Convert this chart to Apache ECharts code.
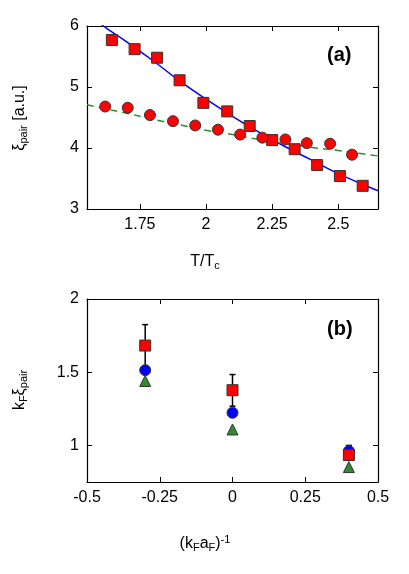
<!DOCTYPE html><html><head><meta charset="utf-8">
<script src="https://cdn.jsdelivr.net/npm/echarts@6/dist/echarts.min.js"></script>
<style>html,body{margin:0;background:#fff}#c{width:409px;height:574px}</style></head><body><div id="c"></div>
<script>
const sqT=[1.644,1.73,1.815,1.90,1.99,2.08,2.165,2.25,2.335,2.42,2.506,2.592];
const sqXi=[5.77,5.62,5.48,5.11,4.74,4.60,4.36,4.13,3.98,3.72,3.54,3.38];
const ciT=[1.619,1.704,1.788,1.875,1.959,2.045,2.129,2.213,2.30,2.381,2.469,2.552];
const ciXi=[4.68,4.66,4.54,4.44,4.37,4.30,4.22,4.17,4.14,4.08,4.07,3.89];
const fitT=[1.55,1.6,1.7,1.8,1.9,2.0,2.1,2.2,2.3,2.4,2.5,2.6,2.65];
const blueFit=[6.25,6.04,5.74,5.43,5.1,4.8,4.52,4.26,4.02,3.8,3.58,3.39,3.3];
const greenFit=[4.71,4.66,4.57,4.47,4.38,4.29,4.22,4.14,4.07,4.01,3.96,3.90,3.87];
const kx=[-0.3,0.0,0.4];
const kSq=[1.682,1.377,0.934];
const kSqErrLo=[1.54,1.268,0.90];
const kSqErrHi=[1.825,1.484,1.0];
const kCi=[1.514,1.223,0.961];
const kTr=[1.44,1.109,0.852];
const z=(a,b)=>a.map((v,i)=>[v,b[i]]);
const F='Liberation Sans, Arial, sans-serif';
const ax={axisLine:{show:true,onZero:false,lineStyle:{color:'#000',width:1.2}},axisTick:{show:true,inside:true,length:5,lineStyle:{color:'#000'}},splitLine:{show:false},axisLabel:{color:'#000',fontSize:16,fontFamily:F}};
const mirror=(o)=>Object.assign({},ax,o,{axisLabel:{show:false}});
const ch=echarts.init(document.getElementById('c'));
const bd={borderColor:'#333',borderWidth:1,opacity:1};
ch.setOption({animation:false,
grid:[{left:87,right:31,top:26,height:183},{left:87,right:31,top:299,height:183}],
xAxis:[
Object.assign({},ax,{gridIndex:0,type:'value',min:1.55,max:2.65,interval:0.25,axisLabel:Object.assign({},ax.axisLabel,{customValues:[1.75,2,2.25,2.5],formatter:v=>String(+v.toFixed(2))}),axisTick:Object.assign({},ax.axisTick,{customValues:[1.75,2,2.25,2.5]})}),
mirror({gridIndex:0,type:'value',position:'top',min:1.55,max:2.65,axisTick:Object.assign({},ax.axisTick,{customValues:[1.75,2,2.25,2.5]})}),
Object.assign({},ax,{gridIndex:1,type:'value',min:-0.5,max:0.5,interval:0.25}),
mirror({gridIndex:1,type:'value',position:'top',min:-0.5,max:0.5,interval:0.25})],
yAxis:[
Object.assign({},ax,{gridIndex:0,type:'value',min:3,max:6,interval:1}),
mirror({gridIndex:0,type:'value',position:'right',min:3,max:6,interval:1}),
Object.assign({},ax,{gridIndex:1,type:'value',min:0.75,max:2,interval:0.25,axisLabel:Object.assign({},ax.axisLabel,{customValues:[1,1.5,2]}),axisTick:Object.assign({},ax.axisTick,{customValues:[1,1.5,2]})}),
mirror({gridIndex:1,type:'value',position:'right',min:0.75,max:2,axisTick:Object.assign({},ax.axisTick,{customValues:[1,1.5,2]})})],
series:[
{type:'line',xAxisIndex:0,yAxisIndex:0,data:z(fitT,blueFit),smooth:true,showSymbol:false,lineStyle:{color:'#0000ff',width:1.5},clip:true,z:2},
{type:'line',xAxisIndex:0,yAxisIndex:0,data:z(fitT,greenFit),smooth:true,showSymbol:false,lineStyle:{color:'#2e8b2e',width:1.5,type:[7,5]},z:2},
{type:'scatter',xAxisIndex:0,yAxisIndex:0,data:z(sqT,sqXi),symbol:'rect',symbolSize:11,itemStyle:Object.assign({color:'#ff0000'},bd),z:3},
{type:'scatter',xAxisIndex:0,yAxisIndex:0,data:z(ciT,ciXi),symbol:'circle',symbolSize:11,itemStyle:Object.assign({color:'#ff0000'},bd),z:3},
{type:'custom',xAxisIndex:2,yAxisIndex:2,data:kx.map((x,i)=>[x,kSqErrLo[i],kSqErrHi[i]]),renderItem:(p,api)=>{const a=api.coord([api.value(0),api.value(1)]),b=api.coord([api.value(0),api.value(2)]);const s={stroke:'#000',lineWidth:1.5};return{type:'group',children:[{type:'line',shape:{x1:a[0],y1:a[1],x2:b[0],y2:b[1]},style:s},{type:'line',shape:{x1:a[0]-3,y1:a[1],x2:a[0]+3,y2:a[1]},style:s},{type:'line',shape:{x1:b[0]-3,y1:b[1],x2:b[0]+3,y2:b[1]},style:s}]};},z:2},
{type:'scatter',xAxisIndex:2,yAxisIndex:2,data:z(kx,kTr),symbol:'triangle',symbolSize:11,itemStyle:Object.assign({color:'#2e8b2e'},bd),z:3},
{type:'scatter',xAxisIndex:2,yAxisIndex:2,data:z(kx,kCi),symbol:'circle',symbolSize:11,itemStyle:Object.assign({color:'#0000ff'},bd),z:4},
{type:'scatter',xAxisIndex:2,yAxisIndex:2,data:z(kx,kSq),symbol:'rect',symbolSize:11,itemStyle:Object.assign({color:'#ff0000'},bd),z:5}
],
graphic:[
{type:'text',left:327,top:45,style:{text:'(a)',font:'bold 20px '+F,fill:'#000'}},
{type:'text',left:327,top:319,style:{text:'(b)',font:'bold 20px '+F,fill:'#000'}},
{type:'text',x:205,y:252,style:{text:'{n|T/T}{s|c}',align:'center',rich:{n:{fontSize:16,fontFamily:F,fill:'#000'},s:{fontSize:11,fontFamily:F,fill:'#000',verticalAlign:'bottom',padding:[8,0,0,0]}}}},
{type:'text',x:205,y:534,style:{text:'{n|(k}{s|F}{n|a}{s|F}{n|)}{p|-1}',align:'center',rich:{n:{fontSize:16,fontFamily:F,fill:'#000'},s:{fontSize:11,fontFamily:F,fill:'#000',padding:[8,0,0,0]},p:{fontSize:11,fontFamily:F,fill:'#000',padding:[0,0,8,0]}}}},
{type:'text',x:20,y:118,rotation:Math.PI/2,style:{text:'{n|ξ}{s|pair}{n| [a.u.]}',align:'center',verticalAlign:'middle',rich:{n:{fontSize:16,fontFamily:F,fill:'#000'},s:{fontSize:11,fontFamily:F,fill:'#000',padding:[8,0,0,0]}}}},
{type:'text',x:20,y:390,rotation:Math.PI/2,style:{text:'{n|k}{s|F}{n|ξ}{s|pair}',align:'center',verticalAlign:'middle',rich:{n:{fontSize:16,fontFamily:F,fill:'#000'},s:{fontSize:11,fontFamily:F,fill:'#000',padding:[8,0,0,0]}}}}
]});
</script></body></html>
